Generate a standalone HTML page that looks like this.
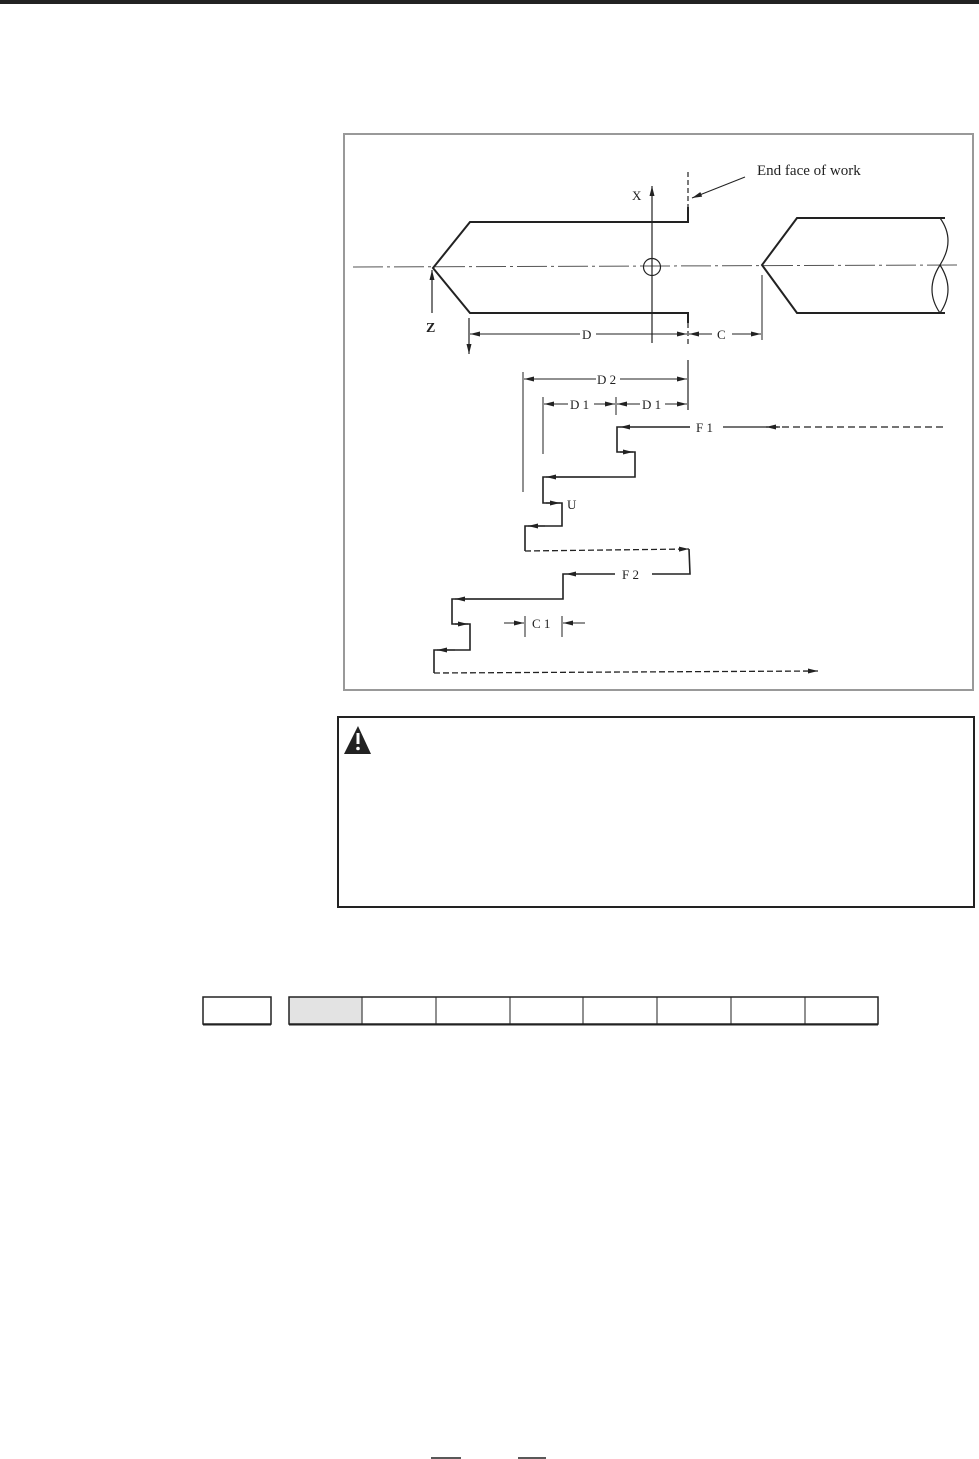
<!DOCTYPE html>
<html><head><meta charset="utf-8"><style>
html,body{margin:0;padding:0;background:#fff;}
svg{display:block;}
text{font-family:"Liberation Serif",serif;fill:#222;}
</style></head><body>
<svg width="979" height="1459" viewBox="0 0 979 1459" xmlns="http://www.w3.org/2000/svg">
<defs>
<marker id="a" viewBox="0 0 10 6" refX="10" refY="3" markerWidth="10" markerHeight="6" markerUnits="userSpaceOnUse" orient="auto"><path d="M0,0.5 L10,3 L0,5.5z" fill="#222"/></marker>
</defs>
<rect x="0" y="0" width="979" height="4" fill="#222"/>
<rect x="344" y="134" width="629" height="556" fill="none" stroke="#999" stroke-width="2"/>
<g stroke="#222" fill="none">
<!-- centerline -->
<line x1="353" y1="267" x2="960" y2="265" stroke-width="1" stroke-dasharray="30,4,3,4" stroke="#555"/>
<!-- left work -->
<path d="M688,207 L688,222 L470,222 L433,268 L470,313 L688,313 L688,323" stroke-width="2"/>
<line x1="688" y1="172" x2="688" y2="207" stroke-width="1.2" stroke-dasharray="5,3"/>
<line x1="688" y1="323" x2="688" y2="345" stroke-width="1.2" stroke-dasharray="5,3"/>
<line x1="688" y1="360" x2="688" y2="410" stroke-width="1.2"/>
<!-- X axis -->
<line x1="652" y1="343" x2="652" y2="186" stroke-width="1.2" marker-end="url(#a)"/>
<circle cx="652" cy="267" r="8.5" stroke-width="1.2"/>
<!-- leader -->
<line x1="745" y1="177" x2="692" y2="198" stroke-width="1" marker-end="url(#a)"/>
<!-- Z -->
<line x1="432" y1="313" x2="432" y2="270" stroke-width="1.2" marker-end="url(#a)"/>
<line x1="469" y1="318" x2="469" y2="354" stroke-width="1.2" marker-end="url(#a)"/>
<!-- D -->
<line x1="580" y1="334" x2="470" y2="334" stroke-width="1" marker-end="url(#a)"/>
<line x1="596" y1="334" x2="687" y2="334" stroke-width="1" marker-end="url(#a)"/>
<line x1="712" y1="334" x2="689" y2="334" stroke-width="1" marker-end="url(#a)"/>
<line x1="732" y1="334" x2="761" y2="334" stroke-width="1" marker-end="url(#a)"/>
<line x1="762" y1="275" x2="762" y2="340" stroke-width="1"/>
<!-- right work -->
<path d="M945,218 L797,218 L762,265 L797,313 L945,313" stroke-width="2"/>
<path d="M940,218 Q956,240 940,265 Q956,290 940,313" stroke-width="1.2"/>
<path d="M940,265 Q924,290 940,313" stroke-width="1.2"/>
<!-- D2 -->
<line x1="523" y1="372" x2="523" y2="492" stroke-width="1"/>
<line x1="596" y1="379" x2="524" y2="379" stroke-width="1" marker-end="url(#a)"/>
<line x1="620" y1="379" x2="687" y2="379" stroke-width="1" marker-end="url(#a)"/>
<!-- D1 -->
<line x1="543" y1="397" x2="543" y2="454" stroke-width="1"/>
<line x1="616" y1="397" x2="616" y2="415" stroke-width="1"/>
<line x1="568" y1="404" x2="544" y2="404" stroke-width="1" marker-end="url(#a)"/>
<line x1="594" y1="404" x2="615" y2="404" stroke-width="1" marker-end="url(#a)"/>
<line x1="640" y1="404" x2="617" y2="404" stroke-width="1" marker-end="url(#a)"/>
<line x1="665" y1="404" x2="687" y2="404" stroke-width="1" marker-end="url(#a)"/>
<!-- toolpath -->
<line x1="943" y1="427" x2="768" y2="427" stroke-width="1.3" stroke-dasharray="7,4"/>
<line x1="768" y1="427" x2="723" y2="427" stroke-width="1.3"/>
<line x1="780" y1="427" x2="766" y2="427" stroke-width="1.3" marker-end="url(#a)"/>
<line x1="690" y1="427" x2="620" y2="427" stroke-width="1.6" marker-end="url(#a)"/>
<path d="M620,427 L617,427 L617,452 L635,452 L635,477 L543,477 L543,503 L562,503 L562,526 L525,526 L525,541" stroke-width="1.6"/>
<line x1="620" y1="452" x2="633" y2="452" stroke-width="1.3" marker-end="url(#a)"/>
<line x1="600" y1="477" x2="546" y2="477" stroke-width="1.3" marker-end="url(#a)"/>
<line x1="546" y1="503" x2="560" y2="503" stroke-width="1.3" marker-end="url(#a)"/>
<line x1="545" y1="526" x2="528" y2="526" stroke-width="1.3" marker-end="url(#a)"/>
<path d="M525,541 L525,551" stroke-width="1.6"/>
<line x1="525" y1="551" x2="689" y2="549" stroke-width="1.3" stroke-dasharray="6,3" marker-end="url(#a)"/>
<path d="M689,549 L690,574 L652,574" stroke-width="1.6"/>
<line x1="615" y1="574" x2="566" y2="574" stroke-width="1.6" marker-end="url(#a)"/>
<path d="M566,574 L563,574 L563,599 L452,599 L452,624 L470,624 L470,650 L434,650 L434,673" stroke-width="1.6"/>
<line x1="520" y1="599" x2="455" y2="599" stroke-width="1.3" marker-end="url(#a)"/>
<line x1="455" y1="624" x2="468" y2="624" stroke-width="1.3" marker-end="url(#a)"/>
<line x1="455" y1="650" x2="437" y2="650" stroke-width="1.3" marker-end="url(#a)"/>
<line x1="434" y1="673" x2="818" y2="671" stroke-width="1.3" stroke-dasharray="6,3" marker-end="url(#a)"/>
<!-- C1 -->
<line x1="525" y1="616" x2="525" y2="637" stroke-width="1"/>
<line x1="562" y1="616" x2="562" y2="637" stroke-width="1"/>
<line x1="504" y1="623" x2="524" y2="623" stroke-width="1" marker-end="url(#a)"/>
<line x1="585" y1="623" x2="563" y2="623" stroke-width="1" marker-end="url(#a)"/>
<!-- warning box -->
<rect x="338" y="717" width="636" height="190" stroke-width="2"/>
<!-- table -->
<rect x="289" y="997" width="73.75" height="27" fill="#e3e3e3" stroke="none"/>
<rect x="203" y="997" width="68" height="27" stroke-width="1.5"/>
<rect x="289" y="997" width="589" height="27" stroke-width="1.5"/>
<line x1="203" y1="1024.5" x2="271" y2="1024.5" stroke-width="2"/>
<line x1="289" y1="1024.5" x2="878" y2="1024.5" stroke-width="2"/>
<line x1="362" y1="997" x2="362" y2="1024" stroke-width="1"/>
<line x1="436" y1="997" x2="436" y2="1024" stroke-width="1"/>
<line x1="510" y1="997" x2="510" y2="1024" stroke-width="1"/>
<line x1="583" y1="997" x2="583" y2="1024" stroke-width="1"/>
<line x1="657" y1="997" x2="657" y2="1024" stroke-width="1"/>
<line x1="731" y1="997" x2="731" y2="1024" stroke-width="1"/>
<line x1="805" y1="997" x2="805" y2="1024" stroke-width="1"/>
<line x1="431" y1="1458" x2="461" y2="1458" stroke-width="1.5"/>
<line x1="518" y1="1458" x2="546" y2="1458" stroke-width="1.5"/>
</g>
<path d="M344,754 L358,726 L371,754z" fill="#222"/>
<rect x="356.5" y="733" width="3" height="11" fill="#fff"/>
<circle cx="358" cy="748.5" r="1.8" fill="#fff"/>
<text x="757" y="175" font-size="15">End face of work</text>
<text x="632" y="200" font-size="13">X</text>
<text x="426" y="332" font-size="14" font-weight="bold">Z</text>
<text x="582" y="339" font-size="13">D</text>
<text x="717" y="339" font-size="13">C</text>
<text x="597" y="384" font-size="13">D 2</text>
<text x="570" y="409" font-size="13">D 1</text>
<text x="642" y="409" font-size="13">D 1</text>
<text x="696" y="432" font-size="13">F 1</text>
<text x="567" y="509" font-size="13">U</text>
<text x="622" y="579" font-size="13">F 2</text>
<text x="532" y="628" font-size="13">C 1</text>
</svg>
</body></html>
